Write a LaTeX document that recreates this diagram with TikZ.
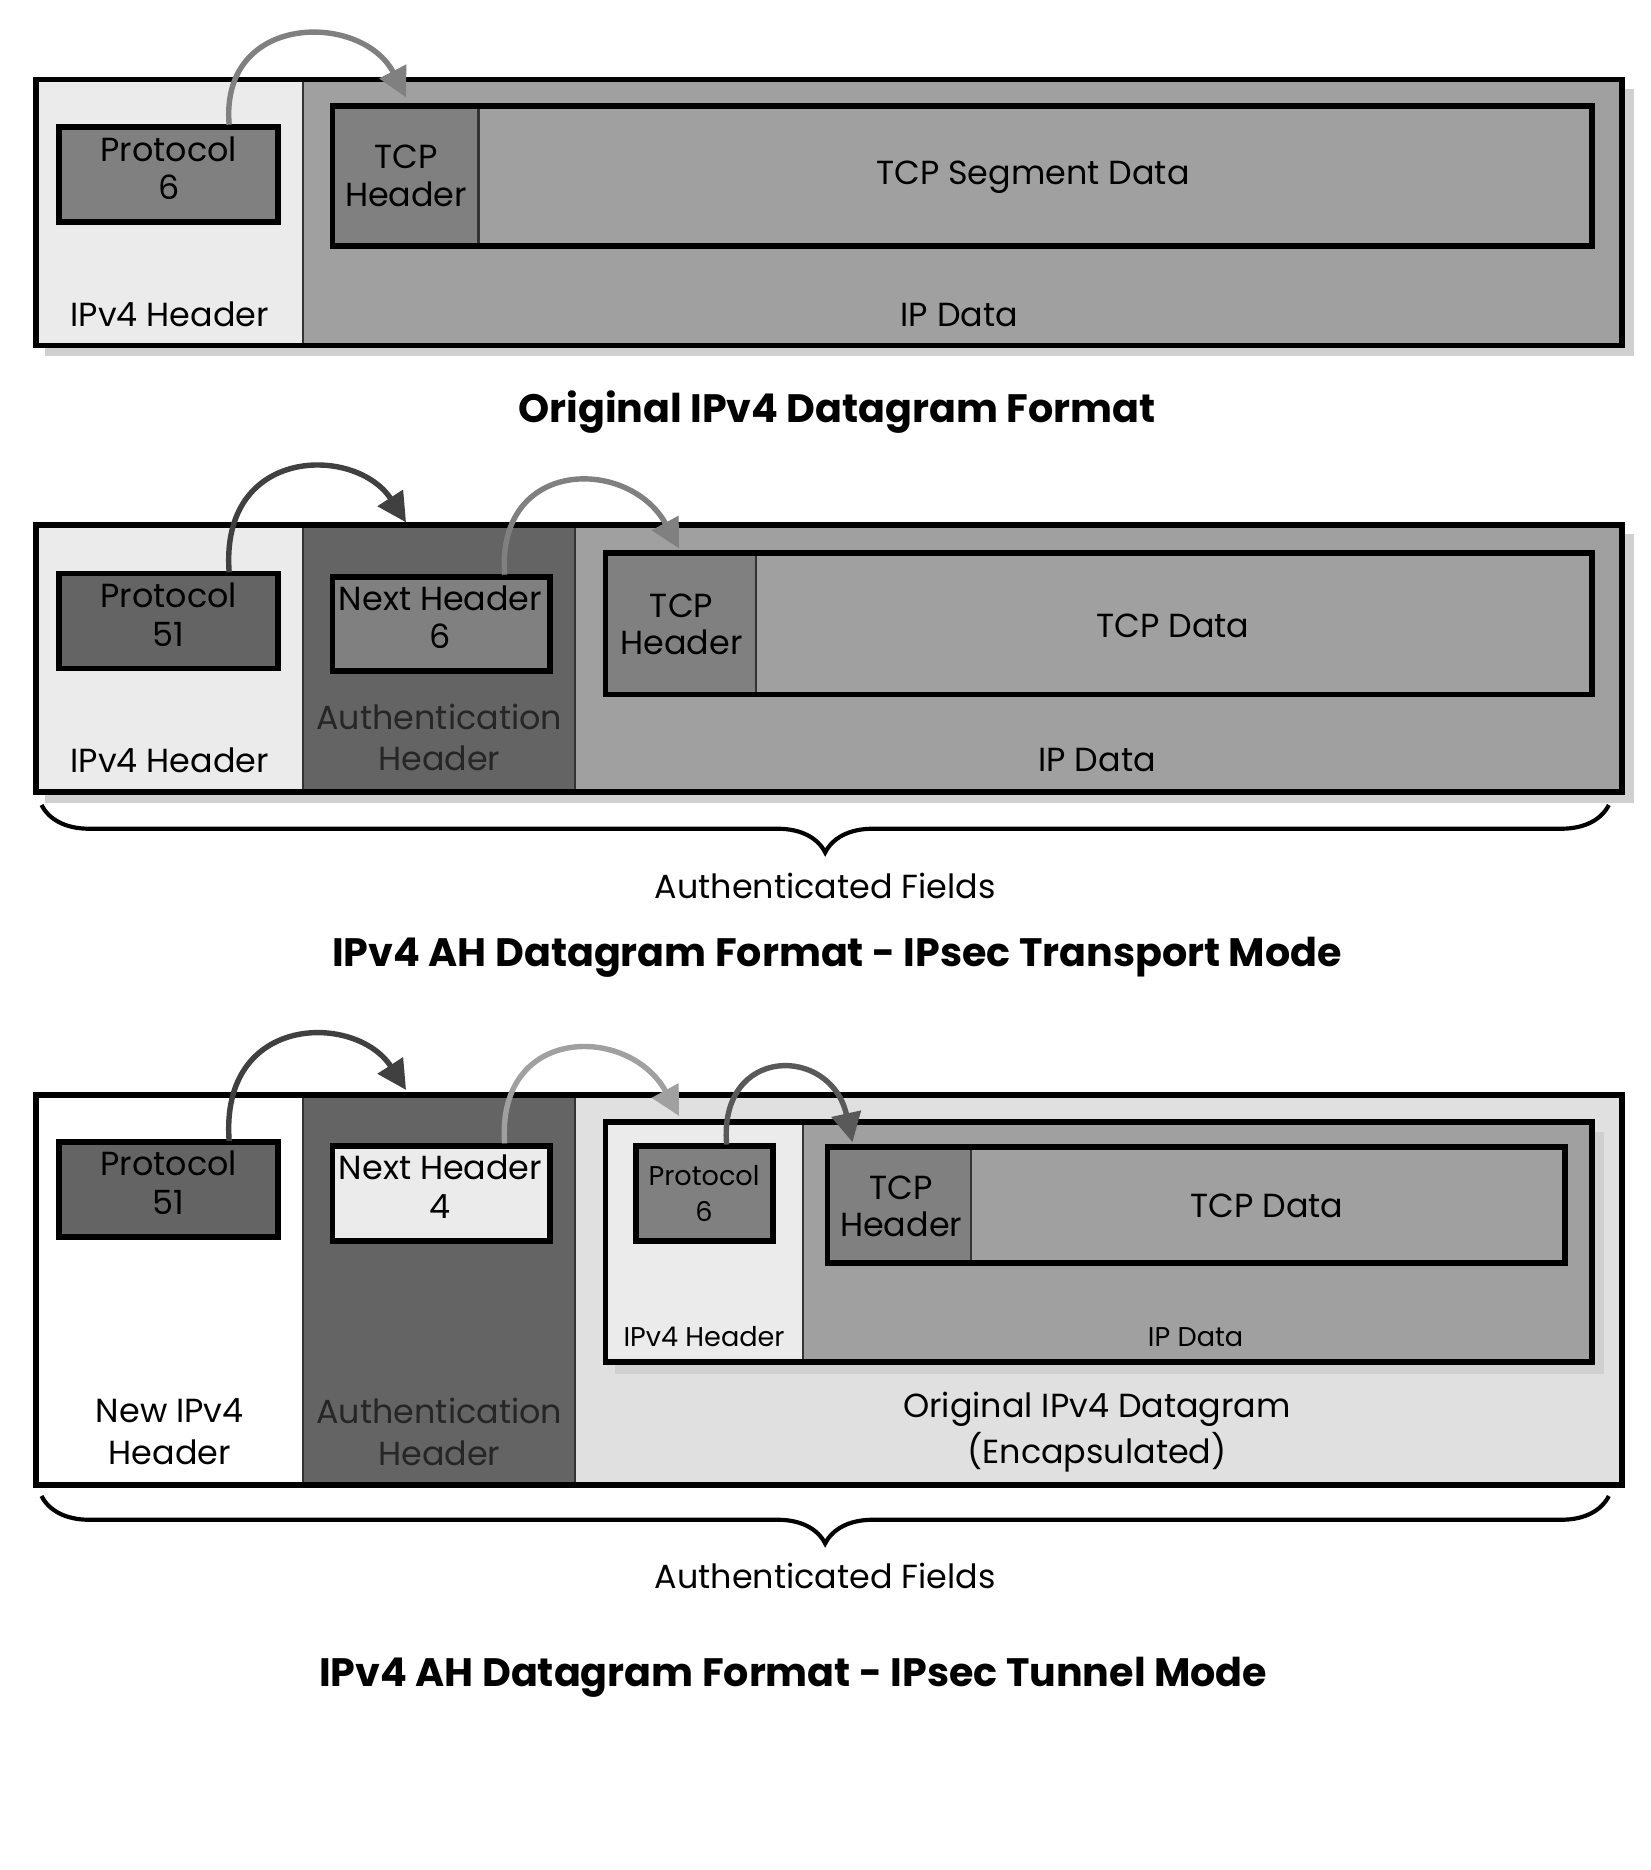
\documentclass[tikz,border=0pt]{standalone}
\usepackage{fontspec}
\setmainfont{Poppins}
\usetikzlibrary{arrows.meta,decorations.pathreplacing}
\definecolor{cA}{HTML}{EBEBEB}
\definecolor{cB}{HTML}{A0A0A0}
\definecolor{cC}{HTML}{808080}
\definecolor{cD}{HTML}{646464}
\definecolor{cE}{HTML}{E0E0E0}
\definecolor{cS}{HTML}{D0D0D0}
\begin{document}
\begin{tikzpicture}[x=0.02cm,y=-0.02cm,
  frame/.style={draw=black,line width=2.8pt},
  thin/.style={draw=black!80,line width=1pt},
  lbl/.style={font=\fontsize{16}{18}\selectfont,align=center,inner sep=0},
  slbl/.style={font=\fontsize{13}{15}\selectfont,align=center,inner sep=0},
  ttl/.style={font=\fontsize{19}{22}\selectfont\bfseries,inner sep=0},
  hop/.style={line width=2.6pt,-{Triangle[length=14pt,width=14pt]}},
  brc/.style={line width=2pt,decorate,decoration={brace,mirror,amplitude=0.8cm}}]
\useasboundingbox (0,0) rectangle (1390,1575);
% ---------- Panel 1
\fill[cS] (38,75) rectangle (1376,300);
\fill[cA] (30,67) rectangle (255,291);
\fill[cB] (255,67) rectangle (1366,291);
\draw[thin] (255,67) -- (255,291);
\draw[frame,fill=cC] (50,107) rectangle (234,187);
\node[lbl] (p1a) at (142,126) {Protocol};
\node[lbl] (p1b) at (142,158) {6};
\node[lbl] (p1h) at (143,265) {IPv4 Header};
\fill[cC] (280,89) rectangle (403,207);
\draw[thin] (403,89) -- (403,207);
\draw[frame] (280,89) rectangle (1341,207);
\node[lbl] (p1t) at (342,148) {TCP\\Header};
\node[lbl] (p1d) at (870,149) {TCP Segment Data};
\node[lbl] (p1i) at (808,265) {IP Data};
\draw[frame] (30,67) rectangle (1366,291);
\coordinate (a1s) at (193,105); \coordinate (a1e) at (342,82);
\draw[hop,draw=cC,-{Triangle[length=14pt,width=14pt,fill=cC]}] (a1s) .. controls (185,10) and (305,10) .. (a1e);
\node[ttl] (t1) at (705,347) {Original IPv4 Datagram Format};
% ---------- Panel 2
\fill[cS] (38,450) rectangle (1376,676);
\fill[cA] (30,442) rectangle (255,667);
\fill[cD] (255,442) rectangle (484,667);
\fill[cB] (484,442) rectangle (1366,667);
\draw[thin] (255,442) -- (255,667); \draw[thin] (484,442) -- (484,667);
\draw[frame,fill=cD] (50,483) rectangle (234,563);
\node[lbl] (p2a) at (142,501) {Protocol};
\node[lbl] (p2b) at (142,534) {51};
\draw[frame,fill=cC] (280,486) rectangle (463,565);
\node[lbl] (p2n) at (371,504) {Next Header};
\node[lbl] (p2m) at (371,536) {6};
\node[lbl] (p2h) at (143,640) {IPv4 Header};
\node[lbl,text=black!85] (p2ah) at (370,621) {Authentication\\[2pt]Header};
\fill[cC] (510,466) rectangle (637,585);
\draw[thin] (637,466) -- (637,585);
\draw[frame] (510,466) rectangle (1341,585);
\node[lbl] (p2t) at (574,526) {TCP\\Header};
\node[lbl] (p2d) at (988,527) {TCP Data};
\node[lbl] (p2i) at (924,640) {IP Data};
\draw[frame] (30,442) rectangle (1366,667);
\coordinate (a2s) at (193,482); \coordinate (a2e) at (342,440);
\draw[hop,draw=black!75,-{Triangle[length=14pt,width=14pt,fill=black!75]}] (a2s) .. controls (185,375) and (300,375) .. (a2e);
\coordinate (a3s) at (425,484); \coordinate (a3e) at (572,462);
\draw[hop,draw=cC,-{Triangle[length=14pt,width=14pt,fill=cC]}] (a3s) .. controls (418,385) and (530,385) .. (a3e);
\coordinate (b1l) at (35,678); \coordinate (b1r) at (1355,678);
\draw[brc] (b1l) -- (b1r);
\node[lbl] (af1) at (695,746) {Authenticated Fields};
\node[ttl] (t2) at (705,806) {IPv4 AH Datagram Format - IPsec Transport Mode};
% ---------- Panel 3
\fill[white] (30,922) rectangle (255,1251);
\fill[cD] (255,922) rectangle (484,1251);
\fill[cE] (484,922) rectangle (1366,1251);
\draw[thin] (255,922) -- (255,1251); \draw[thin] (484,922) -- (484,1251);
\draw[frame,fill=cD] (50,962) rectangle (234,1042);
\node[lbl] (p3a) at (142,980) {Protocol};
\node[lbl] (p3b) at (142,1013) {51};
\draw[frame,fill=cA] (280,965) rectangle (463,1045);
\node[lbl] (p3n) at (371,983) {Next Header};
\node[lbl] (p3m) at (371,1016) {4};
\node[lbl] (p3h) at (143,1206) {New IPv4\\[2pt]Header};
\node[lbl,text=black!85] (p3ah) at (370,1206) {Authentication\\[2pt]Header};
\fill[cS] (518,953) rectangle (1351,1157);
\fill[cA] (510,945) rectangle (676,1147);
\fill[cB] (676,945) rectangle (1341,1147);
\draw[thin] (676,945) -- (676,1147);
\draw[frame,fill=cC] (536,965) rectangle (651,1045);
\node[slbl] (p3c) at (593,990) {Protocol};
\node[slbl] (p3d) at (593,1020) {6};
\node[slbl] (p3e) at (593,1126) {IPv4 Header};
\fill[cC] (697,966) rectangle (818,1064);
\draw[thin] (818,966) -- (818,1064);
\draw[frame] (697,966) rectangle (1318,1064);
\node[lbl] (p3t) at (759,1016) {TCP\\Header};
\node[lbl] (p3d2) at (1067,1016) {TCP Data};
\node[slbl] (p3i) at (1007,1126) {IP Data};
\draw[frame] (510,945) rectangle (1341,1147);
\node[lbl] (p3o) at (924,1206) {Original IPv4 Datagram\\[2pt](Encapsulated)};
\draw[frame] (30,922) rectangle (1366,1251);
\coordinate (a4s) at (193,961); \coordinate (a4e) at (342,918);
\draw[hop,draw=black!75,-{Triangle[length=14pt,width=14pt,fill=black!75]}] (a4s) .. controls (185,853) and (300,853) .. (a4e);
\coordinate (a5s) at (425,963); \coordinate (a5e) at (572,940);
\draw[hop,draw=cB,-{Triangle[length=14pt,width=14pt,fill=cB]}] (a5s) .. controls (418,863) and (530,863) .. (a5e);
\coordinate (a6s) at (612,964); \coordinate (a6e) at (718,962);
\draw[hop,draw=black!65,-{Triangle[length=14pt,width=14pt,fill=black!65]}] (a6s) .. controls (605,880) and (700,880) .. (a6e);
\coordinate (b2l) at (35,1260); \coordinate (b2r) at (1355,1260);
\draw[brc] (b2l) -- (b2r);
\node[lbl] (af2) at (695,1327) {Authenticated Fields};
\node[ttl] (t3) at (668,1413) {IPv4 AH Datagram Format - IPsec Tunnel Mode};
\end{tikzpicture}
\end{document}
